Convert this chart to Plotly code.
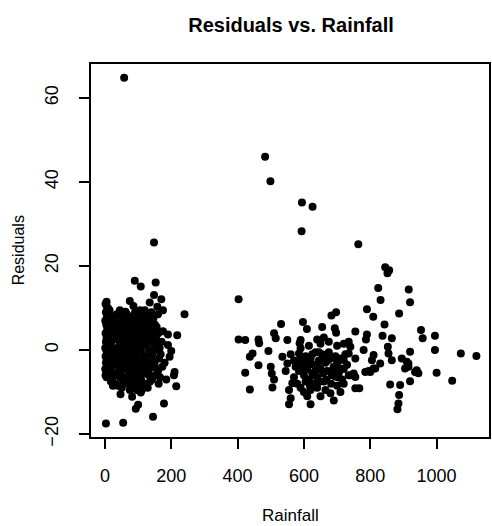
import plotly.graph_objects as go

# ---- data: (rainfall, residual) ----
left_x = [2, 5, 8, 3, 6, 10, 1, 4, 7, 9, 2, 5, 8, 3, 6, 1, 4, 7, 10, 2, 5, 8, 3, 6, 9, 1, 4, 7, 2, 5,
          148, 90, 108, 153, 148, 75, 170, 135, 158, 62, 240, 5, 10, 120, 140, 160, 100, 175,
          190, 218, 190, 195, 200, 210, 208, 215, 178, 145, 93, 100, 47, 82, 108, 3, 55, 175, 180, 185,
          21, 23, 19, 24, 20, 22,
          31, 33, 29, 34, 30, 32,
          41, 38, 43, 40, 42, 39,
          51, 48, 53, 50, 52, 49, 51,
          61, 58, 63, 60, 62, 59,
          71, 68, 73, 70, 72, 69,
          81, 78, 83, 80, 82, 79, 81,
          91, 88, 93, 90, 92, 89, 91,
          101, 98, 103, 100, 102, 99, 101,
          111, 108, 113, 110, 112, 109, 111,
          121, 118, 123, 120, 122, 119,
          131, 128, 133, 130, 132, 129,
          141, 138, 143, 140, 142,
          151, 148, 153, 150, 152,
          161, 158, 163, 160, 162,
          171, 168, 173,
          14, 16, 13, 17, 15, 12, 18, 14,
          26, 27, 25, 28, 26, 24,
          36, 35, 37, 34, 36,
          45, 46, 44, 47, 45, 46,
          56, 55, 57, 54, 56, 55,
          66, 65, 67, 64, 66, 65,
          76, 75, 77, 74, 76, 75,
          86, 85, 87, 84, 86, 85, 86,
          96, 95, 97, 94, 96, 95, 96,
          106, 105, 107, 104, 106, 105,
          116, 115, 117, 114, 116, 115,
          126, 125, 127, 124, 126,
          136, 135, 137, 134, 136,
          146, 145, 147, 144,
          156, 155, 157, 165, 166]
left_y = [11, 10.5, 9.5, 9, 8, 7.5, 7, 6, 5, 4.5, 4, 3, 2.5, 2, 1, 0.5, 0, -0.5, -1, -1.5, -2, -2.5, -3, -3.5, -4, -4.5, -5, -5.5, -6, -6.5,
          25.6, 16.5, 15.1, 16.1, 13.1, 11.7, 12.1, 11.3, 10.3, 9.1, 8.5, 11.5, 9.9, 9.5, 9.0, 8.5, 8.0, 9.5,
          3.7, 3.5, 1.2, -1.6, -0.2, -5.2, -6.0, -8.6, -12.7, -15.9, -14.0, -13.0, -10.5, -11.1, -10.1, -17.5, -17.3, 4.5, -3.0, -7.0,
          8, 5, 2, -1, -4, -7,
          7, 3, 0, -3, -6, -8,
          6, 4, 1, -2, -5, -8.5,
          8, 5, 2, -1, -3, -6, -9,
          7, 4, 1, -2, -4, -7,
          6, 3, 0, -3, -5, -8,
          8, 5, 2, -1, -4, -6, -9,
          9, 6, 3, 0, -2, -5, -7,
          7, 4, 1, -1, -3, -6, -8,
          8, 5, 2, -0.5, -4, -7, -9.5,
          6, 3, 1, -2, -5, -8,
          7, 4, 0, -3, -6, -9,
          5, 2, -1, -4, -7,
          6, 3, 0, -3, -6,
          4, 1, -2, -5, -8,
          2, -1, -4,
          9.5, 6.5, 3.5, 0.5, -2.5, -5.5, -7.5, 7.8,
          6.5, 3.5, 0.5, -2.5, -5.5, -8.5,
          8.5, 5.5, 2.5, -0.5, -3.5,
          9.5, 6.5, 3.5, 0.5, -2.5, -6.5,
          6.5, 3.5, 0.5, -2.5, -4.5, -7.5,
          8.5, 5.5, 2.5, -0.5, -3.5, -6.5,
          7.5, 4.5, 1.5, -1.5, -6.5, -9.5,
          6.5, 3.5, 0.5, -2.5, -5.5, -7.5, 10.5,
          7.5, 4.5, 1.5, -1.5, -3.5, -6.5, -9.5,
          9.5, 6.5, 3.5, 0.5, -4.5, -7.5,
          7.5, 4.5, 1.5, -2.5, -5.5, -8.5,
          8.5, 5.5, 2.5, -1.5, -4.5,
          5.5, 2.5, -0.5, -4.5, -7.5,
          7.5, 4.5, 1.5, -2.5,
          5.5, 2.5, -4.5, 0.5, -6.5]

right_x = [483, 499, 594, 626, 593, 764, 845, 857, 852, 824, 916, 831, 920, 403, 790, 809, 887, 697, 683, 843,
           531, 597, 609, 655, 693, 697, 953, 958, 995,
           403, 423, 463, 465, 510, 515, 550, 590, 587,
           755, 790, 787, 837, 865, 735, 740,
           493, 445, 437, 463, 423, 437, 500, 503, 510, 505,
           535, 550, 590, 585,
           995, 920, 1073, 1120, 1000, 1047, 920, 910, 915, 940, 935,
           853, 855, 865, 895, 915, 905, 945,
           860, 890, 887, 885, 882,
           755, 767, 680, 620, 620, 555, 560, 555, 565,
           815, 830, 810, 805, 780, 795, 785, 750, 755, 740, 755, 800, 810, 735, 720, 710, 695,
           560, 570, 575, 585, 595, 600, 605, 610, 615, 620, 625, 630, 635, 640, 645, 650, 655, 660,
           665, 670, 675, 680, 685, 690, 695, 700, 705, 710, 715, 720, 725, 730, 735,
           580, 590, 600, 640, 650, 665, 700, 710, 690, 570, 615, 650, 700, 660, 610, 630, 545,
           640, 675, 720, 720,
           598, 612, 628, 642, 658, 672, 688, 702, 618, 634, 648, 664, 682, 696, 605, 625, 645, 668, 590, 578]
right_y = [46.0, 40.2, 35.1, 34.1, 28.3, 25.2, 19.7, 19.0, 18.3, 14.8, 14.4, 11.9, 11.4, 12.1, 9.7, 7.9, 8.7, 9.0, 8.2, 6.1,
           6.2, 6.7, 5.0, 5.5, 5.2, 4.1, 4.8, 2.8, 3.4,
           2.5, 2.4, 2.5, 1.6, 4.0, 2.8, 2.4, 2.4, 1.6,
           4.4, 3.7, 2.5, 3.4, 2.8, 2.0, 0.8,
           -0.2, -0.8, -1.6, -3.6, -5.4, -9.4, -4.0, -5.6, -7.0, -8.9,
           -1.6, -3.2, 0.4, -0.8,
           0.0, -0.4, -0.8, -1.4, -5.4, -7.3, -7.4, -2.8, -4.0, -4.8, -5.2,
           0.8, -0.8, -2.4, -2.0, -3.2, -4.4, -5.5,
           -8.2, -8.3, -10.7, -12.7, -14.1,
           -9.1, -9.1, -10.3, -9.5, -12.9, -12.9, -11.5, -9.5, -7.9,
           -4.4, -3.2, -1.2, -2.4, 0.0, -5.0, -5.2, -5.6, -2.0, -6.0, -6.4, -5.2, -4.4, -0.8, -2.4, -4.4, -6.3,
           -1, -2.5, -4, -5, -3, -6, -1.5, -4.5, -7, -2, -5.5, -3.5, -0.5, -6.5, -2.5, -4.5, -1, -7.5,
           -3, -5, -0.5, -2, -6, -4, -1.5, -3, -5.5, -2, -7, -4.5, -1, -3.5, -6,
           -8, -9, -10, -9, -11, -9.5, -8.5, -10, -12, -6.5, 1, 1.5, 1, 3, -11, -8, -5,
           2.5, 2, 1.5, -8,
           -4.5, -3, -6, -3.5, -5.5, -2.5, -4.5, -6.5, -8.5, -5, -7.5, -1.5, -8, -4.5, -7.5, -1, -0.5, -7, -2, -3.5]

outlier_x = [58]
outlier_y = [64.8]

x_ticks = [0, 200, 400, 600, 800, 1000]
y_ticks = [-20, 0, 20, 40, 60]

rainfall = left_x + right_x + outlier_x
residuals = left_y + right_y + outlier_y

fig = go.Figure(go.Scatter(
    x=rainfall, y=residuals, mode="markers",
    marker=dict(color="black", size=8, line=dict(width=0)),
    showlegend=False, hoverinfo="skip"))

font = "Liberation Sans, Arial, sans-serif"
fig.update_layout(
    width=492, height=526,
    margin=dict(l=91, r=1, t=64, b=89),
    paper_bgcolor="white", plot_bgcolor="white",
    font=dict(family=font, color="black", size=17),
    title=dict(text="<b>Residuals vs. Rainfall</b>", x=0.5915, xanchor="center",
               y=1 - 25 / 526, yanchor="middle", font=dict(size=20)),
    xaxis=dict(range=[-42, 1158], tickvals=x_ticks, ticks="outside", ticklen=10,
               tickwidth=1.8, tickcolor="black", showline=True, linecolor="black",
               linewidth=1.8, mirror=True, showgrid=False, zeroline=False,
               ticklabelstandoff=11, tickfont=dict(size=18)),
    yaxis=dict(range=[-20.7, 68.1], tickvals=y_ticks, ticks="outside", ticklen=10,
               tickwidth=1.8, tickcolor="black", showline=True, linecolor="black",
               linewidth=1.8, mirror=True, showgrid=False, zeroline=False,
               tickangle=-90, ticklabelstandoff=14, tickfont=dict(size=18)),
    annotations=[
        dict(text="Rainfall", x=0.5, xref="paper", y=0, yref="paper",
             showarrow=False, font=dict(size=17), xanchor="center", yanchor="middle"),
        dict(text="Residuals", x=0, y=0.5, xref="paper", yref="paper",
             showarrow=False, textangle=-90, font=dict(size=16),
             xanchor="center", yanchor="middle"),
    ],
)
# place axis-title annotations in pixel terms converted to paper coords
pw, ph = 492 - 91 - 1, 526 - 64 - 89
fig.layout.annotations[0].y = (526 - 89 - 515) / ph
fig.layout.annotations[1].x = (18 - 91) / pw
fig.layout.annotations[1].y = (526 - 89 - 250) / ph

fig.write_html("out.html")
